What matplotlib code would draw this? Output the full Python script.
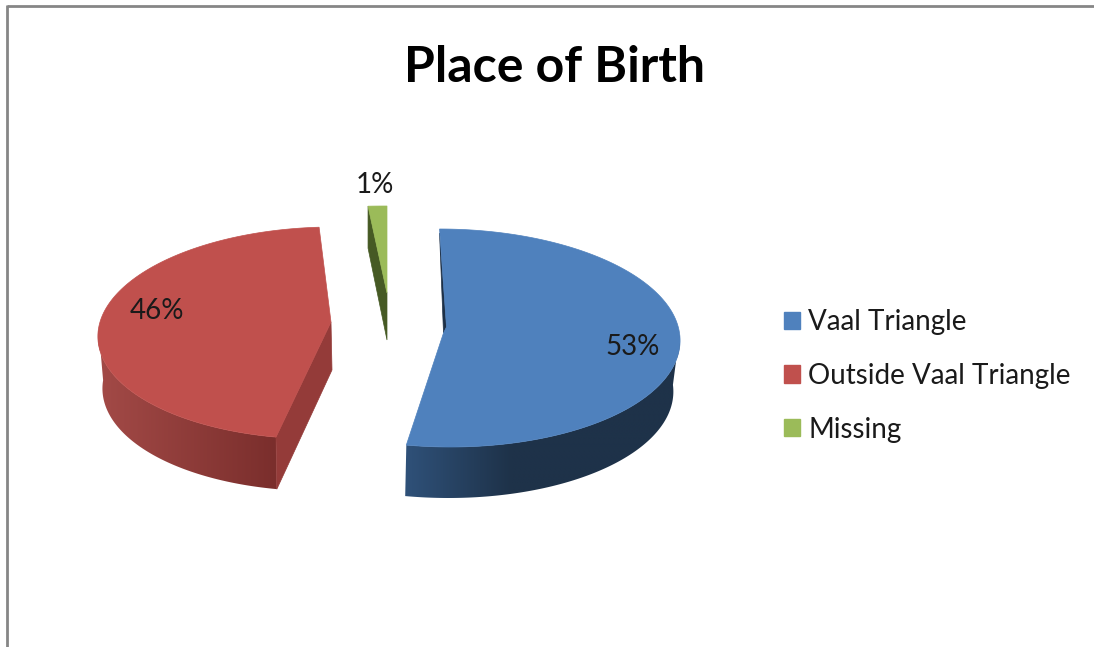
import numpy as np
import matplotlib
matplotlib.use('Agg')
import matplotlib.pyplot as plt
from matplotlib.colors import to_rgb
from matplotlib.patches import Patch, Polygon

# Data
labels = ['Vaal Triangle', 'Outside Vaal Triangle', 'Missing']
shares = [53, 46, 1]
colors = ['#4f81bd', '#c0504d', '#9bbb59']

# Shading of the faces: inner cut face, then outer wall from left to right
inner = ['#1d3047', '#943b39', '#465a24']
wall_left = ['#2f5179', '#a34a47', '#465a24']
wall_right = ['#1e3249', '#7a2e2c', '#465a24']

# Pixel geometry of each exploded slice (perspective is faked with a skew)
cx = [445, 326, 387]
cy = [338, 333, 293]
rx = [235, 228, 302]
ry = [109, 106, 87]
skew = [0.05, -0.07, 0.0]
apex_x = [443.5, 331, 387]
apex_y = [333, 322, 293]
depth = [51, 52, 47]
shrink = [0.98, 0.98, 1.0]
bottom_dx = [-2, 0, 0]
pct_pos = [(633, 347), (157, 311), (375, 185)]

plt.rcParams['font.family'] = ['Lato', 'DejaVu Sans']

fig = plt.figure(figsize=(10.94, 6.47), dpi=100)
ax = fig.add_axes([0, 0, 1, 1])
ax.axis('off')


def rim(i, t, bottom=False):
    # point on the slice rim, t in radians clockwise from 12 o'clock
    a = rx[i] * (shrink[i] if bottom else 1)
    y = cy[i] - ry[i] * np.cos(t)
    x = cx[i] + a * np.sin(t) + skew[i] * (y - cy[i])
    if bottom:
        x = x + bottom_dx[i]
        y = y + depth[i]
    return x, y


def mix(c1, c2, f):
    c1, c2 = np.array(to_rgb(c1)), np.array(to_rgb(c2))
    return c1 + (c2 - c1) * f


edges = np.cumsum([0] + shares) / sum(shares) * 2 * np.pi

for i in range(len(shares)):
    t = np.linspace(edges[i], edges[i + 1], 240)
    x, y = rim(i, t)
    xb, yb = rim(i, t, bottom=True)

    # outer wall, only the part of the rim that faces the viewer
    front = np.where(np.cos(t) <= 0.05)[0]
    if i < 2:
        outline = list(zip(x[front], y[front])) + list(zip(xb[front][::-1], yb[front][::-1]))
        x0 = min(x[front].min(), xb[front].min())
        x1 = max(x[front].max(), xb[front].max())
        f = np.linspace(0, 1, 220)
        if i == 0:
            f = np.minimum(f * 2.6, 1)  # blue goes dark quickly
        grad = np.array([[mix(wall_left[i], wall_right[i], v) for v in f]])
        im = ax.imshow(grad, extent=(x0, x1, yb[front].max() + 2, y[front].min()), aspect='auto',
                       interpolation='bilinear')
        clip = Polygon(outline, transform=ax.transData)
        im.set_clip_path(clip)

    # cut faces
    if i == 0:
        ax.add_patch(Polygon([(x[0], y[0] + 4), (apex_x[i], apex_y[i]), (apex_x[i] + 3, apex_y[i] - 6)],
                             facecolor=inner[i], edgecolor=inner[i], lw=0.5))
        top = [(x[0], y[0])] + list(zip(x, y)) + [(apex_x[i], apex_y[i]), (apex_x[i] + 3, apex_y[i] - 6)]
    elif i == 1:
        ax.add_patch(Polygon([(x[0], y[0]), (apex_x[i], apex_y[i]), (apex_x[i] + 1, apex_y[i] + depth[i] - 4),
                              (xb[0], yb[0])],
                             facecolor=inner[i], edgecolor=inner[i], lw=0.5))
        top = list(zip(x, y)) + [(apex_x[i], apex_y[i])]
    else:
        ax.add_patch(Polygon([(x[0], y[0]), (apex_x[i], apex_y[i]), (apex_x[i], apex_y[i] + depth[i]),
                              (x[0], y[0] + 42)],
                             facecolor=inner[i], edgecolor=inner[i], lw=0.5))
        top = list(zip(x, y)) + [(apex_x[i], apex_y[i])]

    ax.add_patch(Polygon(top, facecolor=colors[i], edgecolor=colors[i], lw=0.5))
    ax.text(pct_pos[i][0], pct_pos[i][1], f'{shares[i]}%', ha='center', va='center',
            fontsize=20, color='#1a1a1a')

# chart frame, top and left only
ax.plot([7, 1094], [6, 6], color='#868686', lw=2, solid_capstyle='butt')
ax.plot([7, 7], [5, 647], color='#868686', lw=2, solid_capstyle='butt')

ax.text(554, 67, 'Place of Birth', ha='center', va='center', fontsize=36,
        fontweight='bold', color='black')

ax.set_xlim(0, 1094)
ax.set_ylim(647, 0)

handles = [Patch(facecolor=c, edgecolor=c) for c in colors]
ax.legend(handles, labels, loc='upper left', bbox_to_anchor=(784 / 1094, 1 - 309 / 647),
          frameon=False, fontsize=20, labelcolor='#1a1a1a', borderpad=0, borderaxespad=0,
          handlelength=0.58, handleheight=0.58, handletextpad=0.3, labelspacing=1.0)

fig.savefig('out.png', dpi=100)
